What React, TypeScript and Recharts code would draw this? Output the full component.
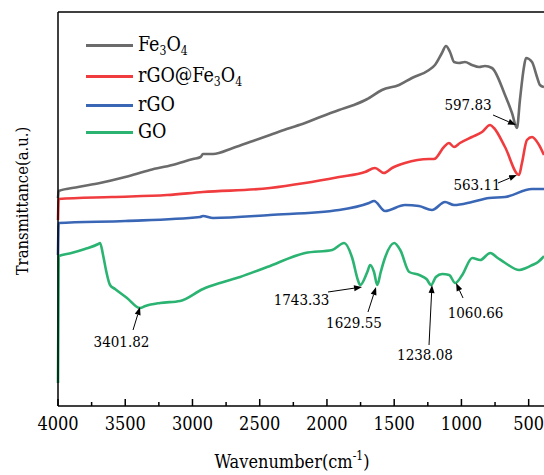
import { Legend, Line, LineChart, ReferenceDot, ReferenceLine, XAxis, YAxis } from 'recharts'

// FTIR spectra of Fe3O4, rGO@Fe3O4, rGO and GO (transmittance in a.u.)

const SERIF = "'DejaVu Serif Condensed', 'DejaVu Serif', serif"

const WAVE_MIN = 386
const WAVE_MAX = 4000
const T_MAX = 394
const X_TICKS = [4000, 3750, 3500, 3250, 3000, 2750, 2500, 2250, 2000, 1750, 1500, 1250, 1000, 750, 500]

// [wavenumber, transmittance]
const FE3O4: [number, number][] = [
  [4000, 208], [3995, 215], [3850, 219], [3688, 223], [3500, 229], [3316, 236], [3150, 241],
  [2996, 247], [2940, 249], [2922, 252], [2880, 252], [2847, 252], [2699, 258], [2550, 265],
  [2424, 271], [2300, 277], [2163, 283], [2050, 289], [1910, 296], [1800, 301], [1700, 307],
  [1687, 308], [1591, 316], [1464, 321], [1368, 328], [1241, 336], [1197, 341], [1145, 353],
  [1115, 360], [1085, 354], [1055, 344], [1018, 343], [974, 344], [922, 341], [869, 339],
  [825, 340], [773, 338], [676, 311], [624, 293], [587, 278], [565, 306], [535, 339],
  [520, 348], [475, 344], [438, 329], [416, 321], [386, 319],
]

const RGO_FE3O4: [number, number][] = [
  [4000, 186], [3995, 207], [3600, 209], [3189, 211], [2922, 214], [2424, 218], [2163, 223],
  [1910, 229], [1717, 234], [1643, 238], [1576, 233], [1516, 238], [1420, 243], [1241, 247],
  [1204, 247], [1130, 259], [1093, 263], [1055, 259], [1011, 263], [922, 269], [847, 274],
  [787, 281], [758, 278], [676, 259], [572, 231], [550, 243], [513, 266], [475, 269],
  [423, 261], [386, 251],
]

const RGO: [number, number][] = [
  [4000, 151], [3995, 183], [3500, 185], [2944, 189], [2922, 190], [2847, 188], [2424, 191],
  [1910, 196], [1687, 203], [1650, 205], [1568, 195], [1420, 201], [1316, 200], [1219, 196],
  [1122, 204], [1055, 201], [922, 204], [795, 208], [676, 209], [475, 217], [386, 217],
]

const GO: [number, number][] = [
  [4000, 23], [3995, 150], [3900, 153], [3800, 157], [3700, 162], [3687, 163], [3665, 151],
  [3640, 134], [3613, 121], [3576, 117], [3487, 108], [3390, 98], [3350, 100], [3241, 103],
  [3092, 105], [2921, 117], [2795, 123], [2646, 129], [2445, 139], [2162, 153], [1961, 156],
  [1872, 163], [1812, 148], [1770, 126], [1753, 121], [1700, 134], [1679, 141], [1650, 134],
  [1626, 121], [1600, 134], [1574, 146], [1500, 163], [1455, 156], [1388, 134], [1314, 131],
  [1260, 127], [1225, 121], [1190, 129], [1143, 132], [1091, 131], [1046, 123], [994, 131],
  [920, 148], [860, 146], [786, 153], [730, 148], [674, 143], [570, 136], [520, 138],
  [473, 141], [430, 144], [399, 148], [386, 150],
]

const SERIES = [
  { key: 'fe3o4', name: 'Fe3O4', color: '#6b6b6b', points: FE3O4 },
  { key: 'rgofe', name: 'rGO@Fe3O4', color: '#f03c3e', points: RGO_FE3O4 },
  { key: 'rgo', name: 'rGO', color: '#3a66b6', points: RGO },
  { key: 'go', name: 'GO', color: '#2bb372', points: GO },
]
const SERIES_ORDER = SERIES.map((s) => s.name)

// peak annotations: label, text anchor point, arrow tail, arrow head
const PEAK_LABELS = ['597.83', '563.11', '3401.82', '1743.33', '1629.55', '1238.08', '1060.66']
const PEAK_TEXT: [number, number][] = [
  [951, 301], [884, 221], [3528, 64], [2189, 106], [1799, 83], [1271, 51], [895, 93],
]
const PEAK_TAIL: [number, number][] = [
  [765, 291], [728, 223], [3442, 76], [1992, 114], [1695, 94], [1241, 61], [988, 108],
]
const PEAK_HEAD: [number, number][] = [
  [594, 281], [587, 231], [3390, 99], [1739, 119], [1635, 119], [1219, 121], [1040, 123],
]

function chem(name: string) {
  return name.split(/(\d)/).map((part, i) =>
    /\d/.test(part) ? (
      <sub key={i} style={{ fontSize: '0.62em', verticalAlign: '-0.3em', lineHeight: 0 }}>
        {part}
      </sub>
    ) : (
      <span key={i}>{part}</span>
    )
  )
}

function SpectraLegend({ payload }: { payload?: Array<{ value: string; color: string }> }) {
  if (!payload) return null
  const items = [...payload].sort((a, b) => SERIES_ORDER.indexOf(a.value) - SERIES_ORDER.indexOf(b.value))
  return (
    <div style={{ fontFamily: SERIF, fontSize: 19.5, color: '#000' }}>
      {items.map((entry) => (
        <div
          key={entry.value}
          style={{ display: 'flex', alignItems: 'center', height: /\d/.test(entry.value) ? 31 : 27 }}
        >
          <span style={{ display: 'inline-block', width: 47, height: 3, background: entry.color, marginRight: 5 }} />
          <span style={{ lineHeight: 1, whiteSpace: 'nowrap' }}>{chem(entry.value)}</span>
        </div>
      ))}
    </div>
  )
}

function WaveTick(props: { x?: number; y?: number; payload?: { value: number } }) {
  const { x = 0, y = 0, payload } = props
  const value = payload?.value ?? 0
  const major = value % 500 === 0
  return (
    <g>
      <line x1={x} x2={x} y1={y} y2={y - (major ? 7 : 4)} stroke="#000" strokeWidth={1.5} />
      {major && (
        <text x={x} y={y + 24} textAnchor="middle" fontSize={18} fontFamily={SERIF} fill="#000">
          {value}
        </text>
      )}
    </g>
  )
}

function ArrowShape(props: { x1?: number; y1?: number; x2?: number; y2?: number }) {
  const { x1 = 0, y1 = 0, x2 = 0, y2 = 0 } = props
  const dx = x2 - x1
  const dy = y2 - y1
  const len = Math.hypot(dx, dy) || 1
  const ux = dx / len
  const uy = dy / len
  const head = 8
  const half = 3
  const bx = x2 - ux * head
  const by = y2 - uy * head
  return (
    <g>
      <line x1={x1} y1={y1} x2={bx} y2={by} stroke="#000" strokeWidth={1} />
      <polygon
        points={`${x2},${y2} ${bx - uy * half},${by + ux * half} ${bx + uy * half},${by - ux * half}`}
        fill="#000"
      />
    </g>
  )
}

function xTitle({ viewBox }: { viewBox?: { x: number; y: number; width: number; height: number } }) {
  if (!viewBox) return null
  return (
    <text x={viewBox.x + viewBox.width / 2 - 9} y={viewBox.y + 62} textAnchor="middle" fontSize={18} fontFamily={SERIF} fill="#000">
      <tspan>Wavenumber(cm</tspan>
      <tspan dy={-8} fontSize={12}>-1</tspan>
      <tspan dy={8}>)</tspan>
    </text>
  )
}

function yTitle({ viewBox }: { viewBox?: { x: number; y: number; width: number; height: number } }) {
  if (!viewBox) return null
  const cx = viewBox.x + 28
  const cy = viewBox.y + viewBox.height / 2 - 8
  return (
    <text x={cx} y={cy} transform={`rotate(-90, ${cx}, ${cy})`} textAnchor="middle" fontSize={16.5} fontFamily={SERIF} fill="#000">
      Transmittance(a.u.)
    </text>
  )
}

export default function App() {
  return (
    <div style={{ position: 'absolute', left: 0, top: 0, width: 544, height: 475, background: '#fff', overflow: 'hidden' }}>
      <LineChart width={544} height={475} margin={{ top: 12, right: 0, bottom: 0, left: 0 }}>
        <XAxis
          type="number"
          dataKey="w"
          domain={[WAVE_MIN, WAVE_MAX]}
          reversed
          ticks={X_TICKS}
          interval={0}
          tickSize={0}
          tickMargin={0}
          tickLine={false}
          tick={<WaveTick />}
          axisLine={{ stroke: '#000', strokeWidth: 1.5 }}
          height={69}
          label={xTitle}
        />
        <YAxis
          type="number"
          domain={[0, T_MAX]}
          tick={false}
          tickLine={false}
          axisLine={{ stroke: '#000', strokeWidth: 1.5 }}
          width={58}
          label={yTitle}
        />
        <ReferenceLine y={T_MAX} stroke="#000" strokeWidth={1.5} />
        <Legend
          layout="vertical"
          align="center"
          verticalAlign="middle"
          wrapperStyle={{ left: 86, top: 29.5, width: 'auto' }}
          content={<SpectraLegend />}
        />
        {SERIES.map((s) => (
          <Line
            key={s.key}
            data={s.points.map(([w, v]) => ({ w, v }))}
            dataKey="v"
            name={s.name}
            type="monotone"
            stroke={s.color}
            strokeWidth={2.6}
            dot={false}
            activeDot={false}
            isAnimationActive={false}
          />
        ))}
        {PEAK_LABELS.map((label, i) => (
          <ReferenceLine
            key={`arrow-${label}`}
            segment={[
              { x: PEAK_TAIL[i][0], y: PEAK_TAIL[i][1] },
              { x: PEAK_HEAD[i][0], y: PEAK_HEAD[i][1] },
            ]}
            ifOverflow="visible"
            shape={(p: any) => <ArrowShape {...p} />}
          />
        ))}
        {PEAK_LABELS.map((label, i) => (
          <ReferenceDot
            key={`text-${label}`}
            x={PEAK_TEXT[i][0]}
            y={PEAK_TEXT[i][1]}
            r={0}
            ifOverflow="visible"
            shape={(p: any) => (
              <text x={p.cx} y={p.cy} dy="0.35em" textAnchor="middle" fontSize={15} fontFamily={SERIF} fill="#000">
                {label}
              </text>
            )}
          />
        ))}
      </LineChart>
    </div>
  )
}
